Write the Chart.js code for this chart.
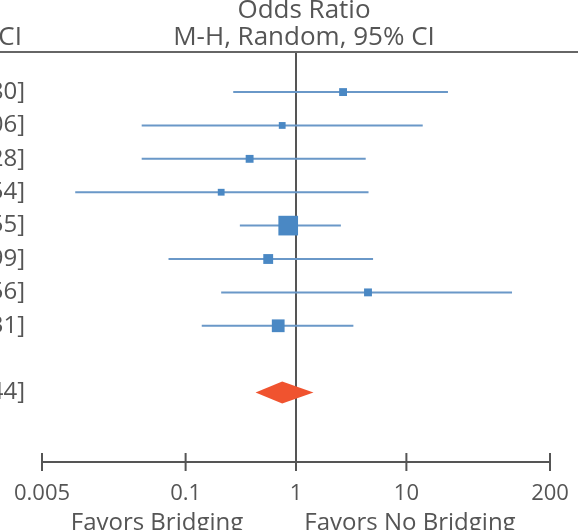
<!DOCTYPE html>
<html lang="en">
<head>
    <meta charset="UTF-8">
    <title>Odds Ratio forest plot</title>
    <script src="https://cdn.jsdelivr.net/npm/chart.js"></script>
    <style>
        html, body { margin: 0; padding: 0; background: #fff; }
        .forest-container { width: 578px; height: 530px; position: relative; }
    </style>
</head>
<body>
<div class="forest-container">
    <canvas id="forestChart" width="578" height="530"></canvas>
</div>

<script>
    // study rows (top to bottom), odds ratio with 95% CI
    const oddsRatio = [2.67, 0.75, 0.38, 0.21, 0.85, 0.56, 4.49, 0.69];
    const ciLower   = [0.27, 0.04, 0.04, 0.01, 0.31, 0.07, 0.21, 0.14];
    const ciUpper   = [23.80, 14.06, 4.28, 4.54, 2.55, 4.99, 90.56, 3.31];
    const weights   = [6.7, 5.0, 6.7, 5.0, 41.8, 10.5, 6.7, 17.6];
    const rowIndex  = [0, 1, 2, 3, 4, 5, 6, 7];

    // pooled estimate (diamond)
    const totalOR = 0.75, totalLower = 0.43, totalUpper = 1.44;
    const totalRow = 9;

    const xTicks = [0.005, 0.1, 1, 10, 200];

    const textColor = '#555';
    const fontFamily = '"Open Sans", "DejaVu Sans", sans-serif';
    const fmt = v => v.toFixed(2);

    // CI segments as one line dataset broken with nulls
    const ciData = [];
    oddsRatio.forEach((_, i) => {
        ciData.push({x: ciLower[i], y: rowIndex[i]});
        ciData.push({x: ciUpper[i], y: rowIndex[i]});
        ciData.push({x: null, y: null});
    });

    const forestPlugin = {
        id: 'forestExtras',
        beforeDatasetsDraw(chart) {
            const {ctx, chartArea, scales} = chart;
            const x = scales.x;
            // line of no effect
            ctx.save();
            ctx.strokeStyle = '#555';
            ctx.lineWidth = 2;
            ctx.beginPath();
            const x1 = x.getPixelForValue(1);
            ctx.moveTo(x1, chartArea.top);
            ctx.lineTo(x1, chartArea.bottom);
            ctx.stroke();
            ctx.restore();
        },
        afterDatasetsDraw(chart) {
            const {ctx, chartArea, scales} = chart;
            const x = scales.x, y = scales.y;
            ctx.save();
            // pooled diamond
            const yc = y.getPixelForValue(totalRow);
            ctx.fillStyle = '#f0532f';
            ctx.beginPath();
            ctx.moveTo(x.getPixelForValue(totalLower), yc);
            ctx.lineTo(x.getPixelForValue(totalOR), yc - 11);
            ctx.lineTo(x.getPixelForValue(totalUpper), yc);
            ctx.lineTo(x.getPixelForValue(totalOR), yc + 11);
            ctx.closePath();
            ctx.fill();

            // header rule
            ctx.strokeStyle = '#666';
            ctx.lineWidth = 2;
            ctx.beginPath();
            ctx.moveTo(0, chartArea.top);
            ctx.lineTo(chart.width, chartArea.top);
            ctx.stroke();

            // axis tick marks above and below the axis
            ctx.strokeStyle = '#555';
            xTicks.forEach(t => {
                const px = x.getPixelForValue(t);
                ctx.beginPath();
                ctx.moveTo(px, chartArea.bottom - 9);
                ctx.lineTo(px, chartArea.bottom + 9);
                ctx.stroke();
            });

            // header text
            ctx.fillStyle = textColor;
            ctx.font = '26px ' + fontFamily;
            ctx.textAlign = 'center';
            ctx.textBaseline = 'middle';
            const xc = x.getPixelForValue(1) + 8;
            ctx.fillText('Odds Ratio', xc, 11);
            ctx.fillText('M-H, Random, 95% CI', xc, 38);

            // left column (cut off in the crop)
            ctx.textAlign = 'right';
            ctx.fillText('95% CI', 22, 38);
            ctx.font = '24px ' + fontFamily;
            oddsRatio.forEach((v, i) => {
                ctx.fillText(fmt(v) + ' [' + fmt(ciLower[i]) + ', ' + fmt(ciUpper[i]) + ']', 25, y.getPixelForValue(rowIndex[i]));
            });
            ctx.fillText(fmt(totalOR) + ' [' + fmt(totalLower) + ', ' + fmt(totalUpper) + ']', 25, yc);

            // favours labels
            ctx.textAlign = 'center';
            ctx.fillText('Favors Bridging', 157, 523);
            ctx.fillText('Favors No Bridging', 410, 523);
            ctx.restore();
        }
    };

    const ctx = document.getElementById('forestChart').getContext('2d');
    const forestChart = new Chart(ctx, {
        type: 'scatter',
        data: {
            datasets: [{
                type: 'line',
                data: ciData,
                borderColor: '#6a98c8',
                borderWidth: 2,
                pointRadius: 0,
                spanGaps: false,
                order: 2
            }, {
                data: oddsRatio.map((v, i) => ({x: v, y: rowIndex[i]})),
                pointStyle: 'rect',
                pointRadius: weights.map(w => Math.sqrt(w) * 2.15),
                backgroundColor: '#4a88c4',
                borderWidth: 0,
                order: 1
            }]
        },
        options: {
            responsive: false,
            animation: false,
            layout: { padding: { top: 52, left: 42, right: 28, bottom: 0 } },
            plugins: {
                legend: { display: false },
                tooltip: { enabled: false }
            },
            scales: {
                x: {
                    type: 'logarithmic',
                    min: 0.005,
                    max: 200,
                    afterBuildTicks: scale => { scale.ticks = xTicks.map(v => ({value: v})); },
                    afterFit: scale => { scale.height = 68; },
                    border: { color: '#555', width: 2 },
                    grid: {
                        drawOnChartArea: false,
                        drawTicks: true,
                        tickLength: 16,
                        color: 'rgba(0,0,0,0)'
                    },
                    ticks: {
                        autoSkip: false,
                        maxRotation: 0,
                        padding: 3,
                        color: textColor,
                        font: { family: fontFamily, size: 22 },
                        callback: v => String(v)
                    }
                },
                y: {
                    type: 'linear',
                    display: false,
                    reverse: true,
                    min: -1.2,
                    max: 11.08
                }
            }
        },
        plugins: [forestPlugin]
    });
</script>
</body>
</html>
